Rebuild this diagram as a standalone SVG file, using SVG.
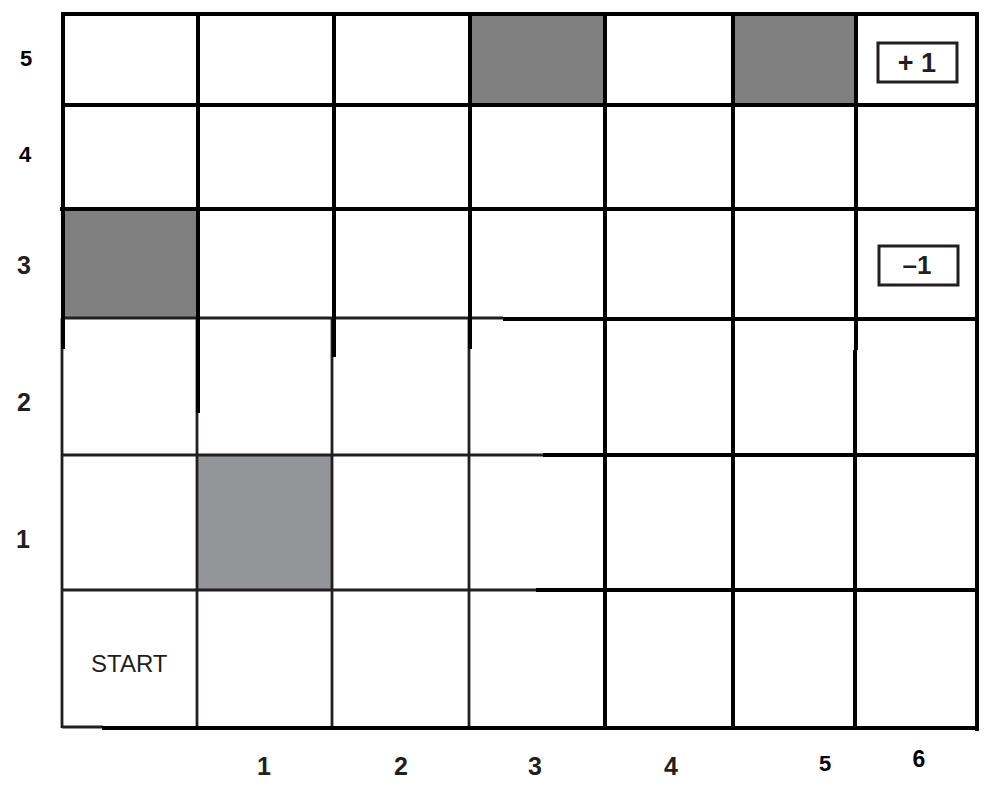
<svg xmlns="http://www.w3.org/2000/svg" width="999" height="790" viewBox="0 0 999 790">
<style>
.thick{stroke:#000;stroke-width:4;fill:none;stroke-linecap:butt}
.thin{stroke:#231f20;stroke-width:2.8;fill:none}
.lbl{font-family:"Liberation Sans",Arial,sans-serif;font-weight:bold;text-anchor:middle}
.box{fill:#fff;stroke:#231f20;stroke-width:3}
</style>
<rect width="999" height="790" fill="#fff"/>
<g id="cells">
<rect x="470" y="14" width="136" height="91" fill="#808080"/>
<rect x="733" y="14" width="123" height="91" fill="#808080"/>
<rect x="63" y="209" width="134" height="109" fill="#808080"/>
<rect x="197" y="456" width="136" height="134" fill="#939598"/>
</g>
<g id="grid-lines">
<g class="thin">
<line x1="63" y1="318" x2="503" y2="318"/>
<line x1="63" y1="455" x2="543" y2="455"/>
<line x1="63" y1="590" x2="536" y2="590"/>
<line x1="62" y1="727" x2="103" y2="727"/>
<line x1="62" y1="318" x2="62" y2="728"/>
<line x1="197" y1="318" x2="197" y2="727"/>
<line x1="332" y1="318" x2="332" y2="727"/>
<line x1="469" y1="318" x2="469" y2="727"/>
</g>
<g class="thick">
<line x1="63" y1="14" x2="979" y2="14"/>
<line x1="62" y1="105" x2="979" y2="105"/>
<line x1="60" y1="209" x2="979" y2="209"/>
<line x1="503" y1="319" x2="979" y2="319"/>
<line x1="543" y1="455" x2="979" y2="455"/>
<line x1="536" y1="590" x2="979" y2="590"/>
<line x1="102" y1="728" x2="979" y2="728"/>
<line x1="63" y1="12" x2="63" y2="349"/>
<line x1="198" y1="12" x2="198" y2="413"/>
<line x1="334" y1="12" x2="334" y2="357"/>
<line x1="470" y1="12" x2="470" y2="349"/>
<line x1="605" y1="12" x2="605" y2="729"/>
<line x1="733" y1="12" x2="733" y2="729"/>
<line x1="856" y1="12" x2="856" y2="350"/>
<line x1="855" y1="350" x2="855" y2="729"/>
<line x1="977" y1="12" x2="977" y2="731"/>
</g>
</g>
<g id="reward-plus">
<rect class="box" x="878" y="43" width="79" height="39"/>
<text class="lbl" x="917" y="72" font-size="27" fill="#231f20">+ 1</text>
</g>
<g id="reward-minus">
<rect class="box" x="879" y="246" width="79" height="39"/>
<text class="lbl" x="917" y="274" font-size="26" fill="#231f20">–1</text>
</g>
<g id="start">
<text x="91" y="672" font-family="Liberation Sans,Arial,sans-serif" font-size="24" fill="#231f20">START</text>
</g>
<g id="row-labels">
<text class="lbl" x="26" y="66" font-size="22" fill="#000">5</text>
<text class="lbl" x="25" y="162" font-size="22" fill="#000">4</text>
<text class="lbl" x="24" y="274" font-size="25" fill="#231f20">3</text>
<text class="lbl" x="24" y="411" font-size="25" fill="#231f20">2</text>
<text class="lbl" x="23" y="548" font-size="25" fill="#231f20">1</text>
</g>
<g id="col-labels">
<text class="lbl" x="264" y="775" font-size="25" fill="#231f20">1</text>
<text class="lbl" x="401" y="775" font-size="25" fill="#231f20">2</text>
<text class="lbl" x="535" y="775" font-size="25" fill="#231f20">3</text>
<text class="lbl" x="671" y="775" font-size="25" fill="#231f20">4</text>
<text class="lbl" x="825" y="771" font-size="22" fill="#000">5</text>
<text class="lbl" x="919" y="767" font-size="23" fill="#000">6</text>
</g>
</svg>
